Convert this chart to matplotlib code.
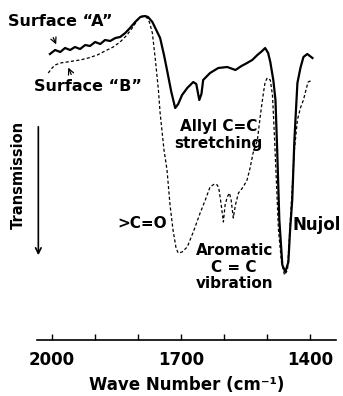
import matplotlib
matplotlib.use("Agg")
import matplotlib.pyplot as plt
from matplotlib.ticker import FixedLocator

# --- spectra (wave number in cm-1, transmission in arbitrary units) ---
wn_a = [2005, 1993, 1981, 1970, 1958, 1947, 1935, 1923, 1912, 1900, 1888, 1877, 1865, 1853,
        1842, 1830, 1819, 1807, 1795, 1784, 1777, 1767, 1758, 1749, 1740, 1733, 1723, 1714,
        1707, 1698, 1686, 1672, 1665, 1658, 1653, 1649, 1633, 1614, 1593, 1574, 1560, 1547,
        1535, 1523, 1512, 1505, 1498, 1493, 1486, 1481, 1477, 1472, 1465, 1458, 1451, 1447,
        1442, 1437, 1430, 1423, 1416, 1407, 1395]
t_a = [286, 290, 288, 292, 290, 293, 291, 295, 294, 298, 296, 300, 299, 302,
       303, 307, 312, 318, 323, 324, 323, 318, 310, 302, 285, 270, 248, 232,
       236, 245, 252, 258, 256, 240, 246, 260, 267, 272, 273, 270, 274, 277,
       280, 285, 289, 292, 287, 278, 260, 240, 190, 120, 75, 68, 78, 110,
       140, 200, 257, 272, 283, 286, 282]

wn_b = [2009, 2000, 1993, 1981, 1965, 1951, 1935, 1916, 1895, 1877, 1858, 1842, 1826, 1812,
        1800, 1791, 1781, 1774, 1767, 1760, 1753, 1749, 1740, 1733, 1726, 1719, 1712, 1707,
        1698, 1686, 1672, 1656, 1644, 1633, 1623, 1616, 1612, 1607, 1602, 1598, 1593, 1588,
        1584, 1579, 1574, 1567, 1556, 1547, 1540, 1533, 1523, 1516, 1509, 1505, 1500, 1493,
        1488, 1484, 1479, 1474, 1467, 1460, 1453, 1449, 1442, 1437, 1430, 1423, 1416, 1409,
        1405, 1395]
t_b = [267, 272, 275, 277, 278, 279, 280, 282, 285, 289, 293, 298, 305, 313,
       321, 324, 323, 318, 307, 280, 250, 227, 190, 170, 135, 110, 92, 87,
       88, 93, 108, 127, 140, 153, 156, 155, 150, 135, 118, 135, 143, 147,
       140, 122, 135, 147, 153, 160, 172, 187, 200, 225, 247, 258, 262, 260,
       245, 210, 160, 110, 78, 65, 70, 100, 153, 190, 220, 232, 240, 252,
       258, 260]

major_ticks = [2000, 1700, 1400]
minor_ticks = [1900, 1800, 1600, 1500]

plt.rcParams['font.family'] = ['DejaVu Sans']
plt.rcParams['font.weight'] = 'bold'

fig = plt.figure(figsize=(3.43, 3.96), dpi=100)
ax = fig.add_axes([0.108, 0.1414, 0.872, 0.8586])

ax.plot(wn_a, t_a, color='black', lw=1.6, solid_joinstyle='round')
ax.plot(wn_b, t_b, color='black', lw=0.9, ls=(0, (2.5, 1.8)))

ax.set_xlim(2035, 1340)
ax.set_ylim(0, 340)

for s in ['top', 'left', 'right']:
    ax.spines[s].set_visible(False)
ax.spines['bottom'].set_linewidth(1.2)
ax.set_yticks([])
ax.xaxis.set_major_locator(FixedLocator(major_ticks))
ax.xaxis.set_minor_locator(FixedLocator(minor_ticks))
ax.tick_params(axis='x', which='both', direction='in', length=4, width=1.0, labelsize=12, pad=8)
ax.set_xlabel('Wave Number (cm\u207b\u00b9)', fontsize=12, labelpad=5, fontweight='bold')

fs = 11.5
ax.text(1981, 319, 'Surface \u201cA\u201d', fontsize=fs, ha='center', va='center')
ax.annotate('', xy=(1988, 293), xytext=(2000, 305),
            arrowprops=dict(arrowstyle='->', lw=0.9, color='black'))
ax.text(1916, 254, 'Surface \u201cB\u201d', fontsize=fs, ha='center', va='center')
ax.annotate('', xy=(1965, 275), xytext=(1953, 263),
            arrowprops=dict(arrowstyle='->', lw=0.9, color='black'))

ax.text(1614, 205, 'Allyl C=C\nstretching', fontsize=11, ha='center', va='center',
        linespacing=1.1)
ax.text(1790, 117, '>C=O', fontsize=11, ha='center', va='center')
ax.text(1577, 73, 'Aromatic\nC = C\nvibration', fontsize=11, ha='center', va='center',
        linespacing=1.1)
ax.text(1385, 115, 'Nujol', fontsize=12, ha='center', va='center')

fig.text(18 / 343, 1 - 175 / 396, 'Transmission', rotation=90, fontsize=10.5,
         ha='center', va='center')
ax.annotate('', xy=(2032, 82), xytext=(2032, 216), annotation_clip=False,
            arrowprops=dict(arrowstyle='->', lw=1.2, color='black'))

fig.savefig('out.png', dpi=100)
